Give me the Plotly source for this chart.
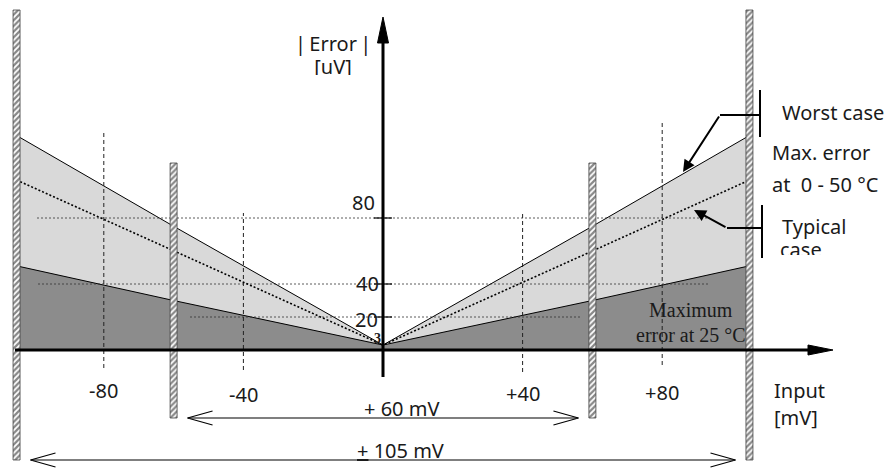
import plotly.graph_objects as go

# ---------------- data ----------------
INPUT_MV = [-105, -60, 0, 60, 105]
WORST_CASE = [130, 75, 3, 75, 130]
TYPICAL_CASE = [103, 60, 3, 60, 103]
MAX_ERR_25C = [51, 30, 3, 30, 51]
X_TICKS = [-80, -40, 40, 80]
X_TICK_LABELS = ["-80", "-40", "+40", "+80"]
Y_TICKS = [20, 40, 80]
Y_TICK_LABELS = ["20", "40", "80"]
ORIGIN_ERR = 3
INNER_RANGE = 60
OUTER_RANGE = 105

# ---------------- geometry helpers (pixel -> data) ----------------
W, H = 888, 469
X0PX, Y0PX = 383, 350
SX, SY = 3.49, 1.65


def dx(px):
    return (px - X0PX) / SX


def dy(py):
    return (Y0PX - py) / SY


def ux(p):
    return p / SX


def uy(p):
    return p / SY


SANS = "Noto Sans"
SERIF = "Liberation Serif"
TXT = "#1a1a1a"

fig = go.Figure()

# ---------------- filled error bands ----------------
fig.add_trace(go.Scatter(x=INPUT_MV, y=WORST_CASE, mode="lines", fill="tozeroy",
                         fillcolor="#d9d9d9", line=dict(color="black", width=1)))
fig.add_trace(go.Scatter(x=INPUT_MV, y=MAX_ERR_25C, mode="lines", fill="tozeroy",
                         fillcolor="#8c8c8c", line=dict(color="black", width=1)))

# ---------------- dashed grid lines ----------------
grid_ext = {20: (dx(190), dx(580)), 40: (dx(38), dx(710)), 80: (dx(37), dx(710))}
for v in Y_TICKS:
    a, b = grid_ext[v]
    fig.add_trace(go.Scatter(x=[a, b], y=[v, v], mode="lines",
                             line=dict(color="#333", width=0.8, dash="2px,2px")))
vext = {-80: (dy(368), dy(132)), -40: (dy(370), dy(213)),
        40: (dy(372), dy(213)), 80: (dy(365), dy(122))}
for v in X_TICKS:
    a, b = vext[v]
    fig.add_trace(go.Scatter(x=[v, v], y=[a, b], mode="lines",
                             line=dict(color="#222", width=1, dash="4px,3px")))

# typical case dotted line
fig.add_trace(go.Scatter(x=INPUT_MV, y=TYPICAL_CASE, mode="lines",
                         line=dict(color="black", width=1.6, dash="2px,2px")))

# ---------------- hatched range walls ----------------
wx, wy = [], []
hw = ux(3.5)
for c, (b, t) in [(-OUTER_RANGE, (dy(460), dy(10))), (-INNER_RANGE, (dy(418), dy(163))),
                  (INNER_RANGE, (dy(418), dy(163))), (OUTER_RANGE, (dy(460), dy(10)))]:
    wx += [c - hw, c + hw, c + hw, c - hw, c - hw, None]
    wy += [b, b, t, t, b, None]
fig.add_trace(go.Scatter(x=wx, y=wy, mode="lines", fill="toself", fillcolor="white",
                         fillpattern=dict(shape="/", fgcolor="#111", bgcolor="white",
                                          size=4, solidity=0.55),
                         line=dict(color="#444", width=0.8)))

# y-axis ticks
for v in Y_TICKS:
    fig.add_trace(go.Scatter(x=[-ux(9), ux(9)], y=[v, v], mode="lines",
                             line=dict(color="black", width=1.2)))

# ---------------- pointer brackets ----------------
for pts in [[(760, 90), (760, 137)], [(720, 115), (760, 115)],
            [(762, 205), (762, 258)], [(727, 228), (762, 228)]]:
    fig.add_trace(go.Scatter(x=[dx(p[0]) for p in pts], y=[dy(p[1]) for p in pts],
                             mode="lines", line=dict(color="black", width=2)))

# ---------------- double arrows (+60 / +105 mV) ----------------
for rng, ypx in [(INNER_RANGE, 418), (OUTER_RANGE, 460)]:
    yv = dy(ypx)
    tip = rng - 4
    al, ah = ux(25), uy(7)
    xs = [-tip, tip, None,
          -tip + al, -tip, -tip + al, None,
          tip - al, tip, tip - al]
    ys = [yv, yv, None,
          yv + ah, yv, yv - ah, None,
          yv + ah, yv, yv - ah]
    fig.add_trace(go.Scatter(x=xs, y=ys, mode="lines", line=dict(color="black", width=1.2)))

# ---------------- clipped texts on helper axes ----------------
fig.add_trace(go.Scatter(x=[780], y=[252], mode="text", text=["case"],
                         textposition="middle right", cliponaxis=True,
                         textfont=dict(family=SANS, size=20, color=TXT),
                         xaxis="x2", yaxis="y2"))
fig.add_trace(go.Scatter(x=[333], y=[69], mode="text", text=["[uV]"],
                         textposition="middle center", cliponaxis=True,
                         textfont=dict(family=SANS, size=20, color=TXT),
                         xaxis="x3", yaxis="y3"))

# ---------------- axes (shapes) ----------------
shapes = [
    dict(type="line", x0=dx(15), x1=dx(812), y0=0, y1=0, line=dict(color="black", width=3)),
    dict(type="path", path=f"M {dx(833)},0 L {dx(808)},{uy(5)} L {dx(808)},{-uy(5)} Z",
         fillcolor="black", line=dict(color="black", width=1)),
    dict(type="line", x0=0, x1=0, y0=dy(377), y1=dy(40), line=dict(color="black", width=3)),
    dict(type="path", path=f"M 0,{dy(17)} L {ux(5.5)},{dy(43)} L {-ux(5.5)},{dy(43)} Z",
         fillcolor="black", line=dict(color="black", width=1)),
]

# ---------------- annotations ----------------
ann = []


def txt(text, xp, yp, size=20, family=SANS, xanchor="center"):
    ann.append(dict(text=text, x=dx(xp), y=dy(yp), xref="x", yref="y", showarrow=False,
                    xanchor=xanchor, yanchor="middle",
                    font=dict(family=family, size=size, color=TXT)))


txt("|\u2009Error\u2009|", 333, 43)
for v, lab, xp, yp in zip(Y_TICKS, Y_TICK_LABELS, [366, 367, 363], [319, 283, 202]):
    txt(lab, xp, yp)
for v, lab, yp in zip(X_TICKS, X_TICK_LABELS, [390, 394, 393, 392]):
    txt(lab, X0PX + v * SX, yp)
txt(f"<b>{ORIGIN_ERR}</b>", 377, 338, size=14, family=SERIF)
txt("Input", 772, 390, xanchor="left")
txt("[mV]", 772, 417, xanchor="left")
txt("Worst case", 780, 112, xanchor="left")
txt("Max. error", 770, 152, xanchor="left")
txt("at\u00a0 0 - 50 °C", 770, 184, xanchor="left")
txt("Typical", 780, 226, xanchor="left")
txt("Maximum", 691, 310, family=SERIF)
txt("error at 25 °C", 691, 335, family=SERIF)
txt(f"+ {INNER_RANGE} mV", 401, 408)
txt(f"<u>+</u> {OUTER_RANGE} mV", 400, 450)

# filled-head pointer arrows
for tip, tail in [((683, 172), (720, 115)), ((694, 210), (727, 228))]:
    ann.append(dict(text="", x=dx(tip[0]), y=dy(tip[1]), ax=dx(tail[0]), ay=dy(tail[1]),
                    xref="x", yref="y", axref="x", ayref="y", showarrow=True,
                    arrowhead=2, arrowsize=1.2, arrowwidth=2, arrowcolor="black",
                    standoff=0))

fig.update_layout(
    width=W, height=H, autosize=False,
    margin=dict(l=0, r=0, t=0, b=0),
    paper_bgcolor="white", plot_bgcolor="rgba(0,0,0,0)",
    showlegend=False,
    xaxis=dict(range=[dx(0), dx(W)], visible=False, fixedrange=True),
    yaxis=dict(range=[dy(H), dy(0)], visible=False, fixedrange=True),
    xaxis2=dict(domain=[0, 1], range=[0, W], visible=False, anchor="y2"),
    yaxis2=dict(domain=[1 - 255 / H, 1], range=[255, 0], visible=False, anchor="x2"),
    xaxis3=dict(domain=[0, 1], range=[0, W], visible=False, anchor="y3"),
    yaxis3=dict(domain=[1 - 75 / H, 1], range=[75, 0], visible=False, anchor="x3"),
    shapes=shapes,
    annotations=ann,
)

fig.write_html("out.html", config={"displayModeBar": False},
               post_script="document.body.style.margin='0';"
               "document.body.style.overflow='hidden';")
